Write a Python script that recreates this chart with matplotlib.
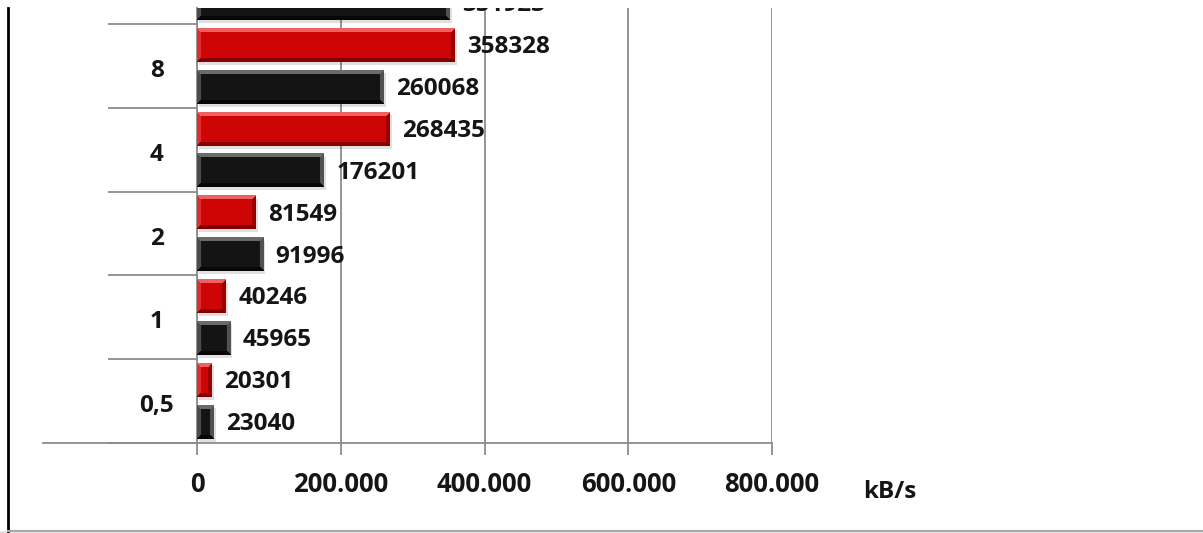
import numpy as np
import matplotlib
matplotlib.use("Agg")
import matplotlib.pyplot as plt
from matplotlib.lines import Line2D
from matplotlib.patches import Rectangle
from matplotlib.ticker import FixedLocator, FuncFormatter
import matplotlib.transforms as mtransforms

# Throughput per block size (kB/s)
categories = ["0,5", "1", "2", "4", "8", "16"]
red_values = [20301, 40246, 81549, 268435, 358328, np.nan]
black_values = [23040, 45965, 91996, 176201, 260068, 351923]
x_ticks = [0, 200000, 400000, 600000, 800000]
unit_label = "kB/s"

plt.rcParams["font.family"] = ["Open Sans", "DejaVu Sans"]

W, H = 1203, 533
TOP_PX = 8
fig = plt.figure(figsize=(W / 100, H / 100), dpi=100)
fig.patch.set_facecolor("white")
ax = fig.add_axes([197 / W, 1 - 443 / H, 575 / W, (443 - TOP_PX) / H])

GRID = "#8c8c8c"
TXT = "#151515"
FS = 17.5
TICK_FS = 18.5
pos = np.arange(len(categories))
bar_h = 0.4
CAT_PX = 83.8
YLIM = (-0.5, -0.5 + (443 - TOP_PX) / CAT_PX)

red_bars = ax.barh(pos + 0.25, red_values, height=bar_h, color="#cc0505", zorder=3)
black_bars = ax.barh(pos - 0.25, black_values, height=bar_h, color="#151515", zorder=3)

ax.set_xlim(0, 800000)
ax.set_ylim(*YLIM)


def bevel(patch, base, top, bottom, left, right, bw=4):
    x0, y0 = patch.get_x(), patch.get_y()
    w, h = patch.get_width(), patch.get_height()
    if not np.isfinite(w) or w <= 0:
        return
    (px0, py0), (px1, py1) = ax.transData.transform([(x0, y0), (x0 + w, y0 + h)])
    nw = max(int(round(px1 - px0)), 1)
    nh = max(int(round(py1 - py0)), 1)
    jj, ii = np.meshgrid(np.arange(nw), np.arange(nh))
    d = np.stack([ii + 0.5, nh - ii - 0.5, jj + 0.5, nw - jj - 0.5])
    which = d.argmin(0)
    dmin = d.min(0)
    img = np.empty((nh, nw, 3))
    img[:] = base
    for k, col in enumerate([top, bottom, left, right]):
        m = (which == k) & (dmin < bw)
        img[m] = col
    # soft drop shadow under the bar
    shadow = Rectangle((x0, y0), w, h, facecolor="#000000", alpha=0.12, lw=0,
                       zorder=2.5,
                       transform=ax.transData + mtransforms.ScaledTranslation(2 / 100, -3 / 100, fig.dpi_scale_trans))
    ax.add_patch(shadow)
    ax.imshow(img, extent=(x0, x0 + w, y0, y0 + h), aspect="auto", origin="upper",
              interpolation="bilinear", zorder=3.2)


for p in red_bars:
    bevel(p, (0.81, 0.02, 0.02), (0.94, 0.38, 0.38), (0.52, 0.0, 0.0),
          (0.88, 0.18, 0.18), (0.60, 0.0, 0.0))
for p in black_bars:
    bevel(p, (0.08, 0.08, 0.08), (0.42, 0.42, 0.42), (0.03, 0.03, 0.03),
          (0.30, 0.30, 0.30), (0.32, 0.32, 0.32))

ax.set_xlim(0, 800000)
ax.set_ylim(*YLIM)

# value labels (clipped to the plot area like the bars)
for bars, vals in ((red_bars, red_values), (black_bars, black_values)):
    for p, v in zip(bars, vals):
        if not np.isfinite(v):
            continue
        ax.annotate(f"{int(v)}", xy=(v, p.get_y() + p.get_height() / 2),
                    xytext=(9, -1.5), textcoords="offset points", ha="left", va="center",
                    fontsize=FS, fontweight="bold", color=TXT,
                    annotation_clip=False, clip_on=True, zorder=5)

# x axis
ax.xaxis.set_major_locator(FixedLocator(x_ticks))
ax.xaxis.set_major_formatter(FuncFormatter(lambda v, _: f"{int(v):,}".replace(",", ".")))
ax.tick_params(axis="x", direction="out", length=8.6, width=1.3, color=GRID,
               pad=11.5, labelsize=TICK_FS)
for t in ax.get_xticklabels():
    t.set_fontweight("bold")
    t.set_color(TXT)
ax.xaxis.grid(True, color=GRID, lw=1.3)
ax.set_axisbelow(True)

# y axis: divider ticks between categories, labels at centres in view
ax.yaxis.set_major_locator(FixedLocator(np.arange(len(categories)) - 0.5))
ax.yaxis.set_major_formatter(FuncFormatter(lambda v, _: ""))
ax.tick_params(axis="y", direction="out", length=64, width=1.3, color=GRID)
ylab_tr = mtransforms.blended_transform_factory(ax.transAxes, ax.transData)
for i, c in enumerate(categories):
    if YLIM[0] < i < YLIM[1]:
        ax.text(-0.07, i - 0.06, c, transform=ylab_tr, ha="center", va="center",
                fontsize=FS, fontweight="bold", color=TXT)

for side in ("top", "right"):
    ax.spines[side].set_visible(False)
for side in ("left", "bottom"):
    ax.spines[side].set_color(GRID)
    ax.spines[side].set_linewidth(1.3)
ax.add_line(Line2D([(43 - 197) / 575, 0], [-0.5, -0.5], transform=ylab_tr,
                   color=GRID, lw=1.3, clip_on=False))

fig.text(890 / W, 1 - 492 / H, unit_label, ha="center", va="center",
         fontsize=FS, fontweight="bold", color=TXT)

# frame of the panel
fig.add_artist(Line2D([8 / W, 8 / W], [1 - 531 / H, 1 - TOP_PX / H], color="black", lw=2))
fig.add_artist(Rectangle((0, 0), 1, 2 / H, transform=fig.transFigure,
                         facecolor="#e6e6e6", lw=0))
fig.add_artist(Line2D([8 / W, 1], [1 - 531 / H, 1 - 531 / H], color="#a8a8a8", lw=1.5))

fig.savefig("out.png", dpi=100)
